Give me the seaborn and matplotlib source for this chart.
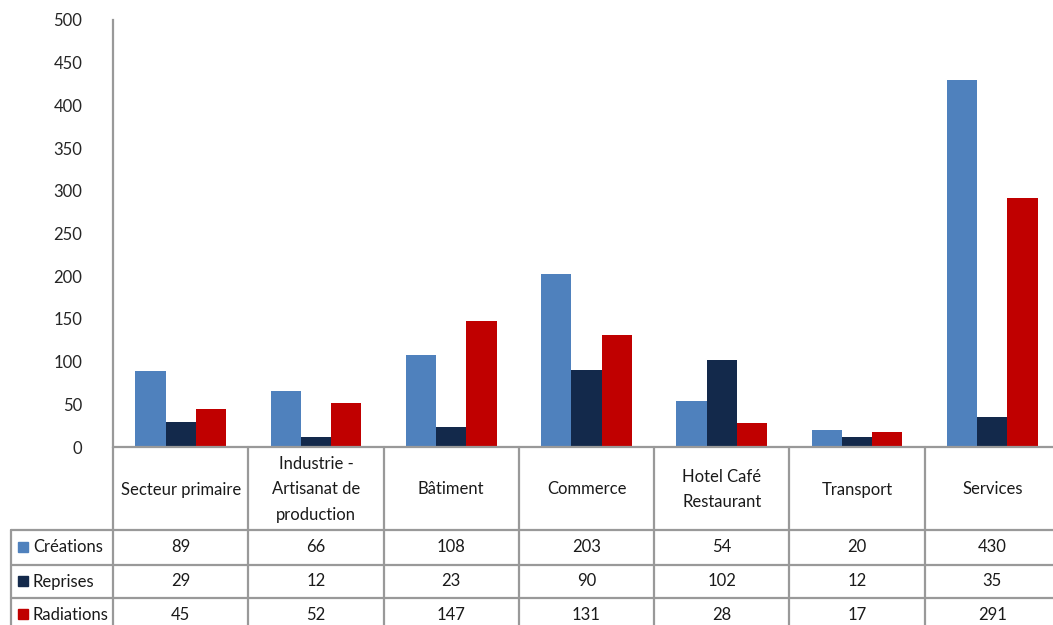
import numpy as np
import pandas as pd
import matplotlib.pyplot as plt
import seaborn as sns

# --- data ---
categories = ["Secteur primaire", "Industrie -\nArtisanat de\nproduction", "Bâtiment",
              "Commerce", "Hotel Café\nRestaurant", "Transport", "Services"]
series = ["Créations", "Reprises", "Radiations"]
creations = [89, 66, 108, 203, 54, 20, 430]
reprises = [29, 12, 23, 90, 102, 12, 35]
radiations = [45, 52, 147, 131, 28, 17, 291]
colors = ["#4F81BD", "#13294B", "#C00000"]
yticks = list(range(0, 501, 50))

df = pd.DataFrame({"secteur": categories, "Créations": creations,
                   "Reprises": reprises, "Radiations": radiations})
long_df = df.melt(id_vars="secteur", var_name="serie", value_name="valeur")

sns.set_style("white")
plt.rcParams["font.family"] = ["Lato", "DejaVu Sans"]

W, H = 1053, 625
fig = plt.figure(figsize=(W / 100, H / 100), dpi=100)

# pixel layout of the plot area and the data table below it
x0, x1 = 113, 1060
y_top, y_zero = 20, 447
ax = fig.add_axes([x0 / W, (H - y_zero) / H, (x1 - x0) / W, (y_zero - y_top) / H])

sns.barplot(data=long_df, x="secteur", y="valeur", hue="serie", hue_order=series,
            order=categories, palette=colors, width=0.67, saturation=1,
            linewidth=0, ax=ax, legend=False)
ax.set_xlim(-0.5, len(categories) - 0.5)
ax.set_ylim(0, 500)
ax.set_yticks(yticks)
ax.set_yticklabels([str(t) for t in yticks], fontsize=12)
ax.tick_params(axis="y", length=0, pad=22)
ax.set_xticks([])
ax.set_xlabel("")
ax.set_ylabel("")
for s in ["top", "right", "bottom"]:
    ax.spines[s].set_visible(False)
ax.spines["left"].set_color("#999999")
ax.spines["left"].set_linewidth(1.6)

# --- data table drawn in pixel coordinates ---
tax = fig.add_axes([0, 0, 1, 1])
tax.set_xlim(0, W)
tax.set_ylim(H, 0)
tax.axis("off")

line_c = "#999999"
lw = 1.6
col_w = (x1 - x0) / len(categories)
edges = [x0 + i * col_w for i in range(len(categories) + 1)]
label_x = 11
rows = [447, 530, 565, 598, 632]

tax.plot([x0, x1], [rows[0], rows[0]], color=line_c, lw=lw)
for r in rows[1:4]:
    tax.plot([label_x, x1], [r, r], color=line_c, lw=lw)
for e in edges[:-1]:
    tax.plot([e, e], [rows[0], rows[-1]], color=line_c, lw=lw)
tax.plot([label_x, label_x], [rows[1], rows[-1]], color=line_c, lw=lw)

for i, cat in enumerate(categories):
    cx = edges[i] + col_w / 2
    tax.text(cx, (rows[0] + rows[1]) / 2 + 1, cat, ha="center", va="center",
             fontsize=12, linespacing=1.75, color="#1a1a1a")

values = [creations, reprises, radiations]
for j, (name, vals, c) in enumerate(zip(series, values, colors)):
    cy = (rows[j + 1] + rows[j + 2]) / 2
    tax.add_patch(plt.Rectangle((18, cy - 6), 10, 10, color=c))
    tax.text(33, cy, name, ha="left", va="center", fontsize=12, color="#1a1a1a")
    for i, v in enumerate(vals):
        tax.text(edges[i] + col_w / 2, cy, str(v), ha="center", va="center",
                 fontsize=12, color="#1a1a1a")

fig.savefig("out.png", dpi=100)
